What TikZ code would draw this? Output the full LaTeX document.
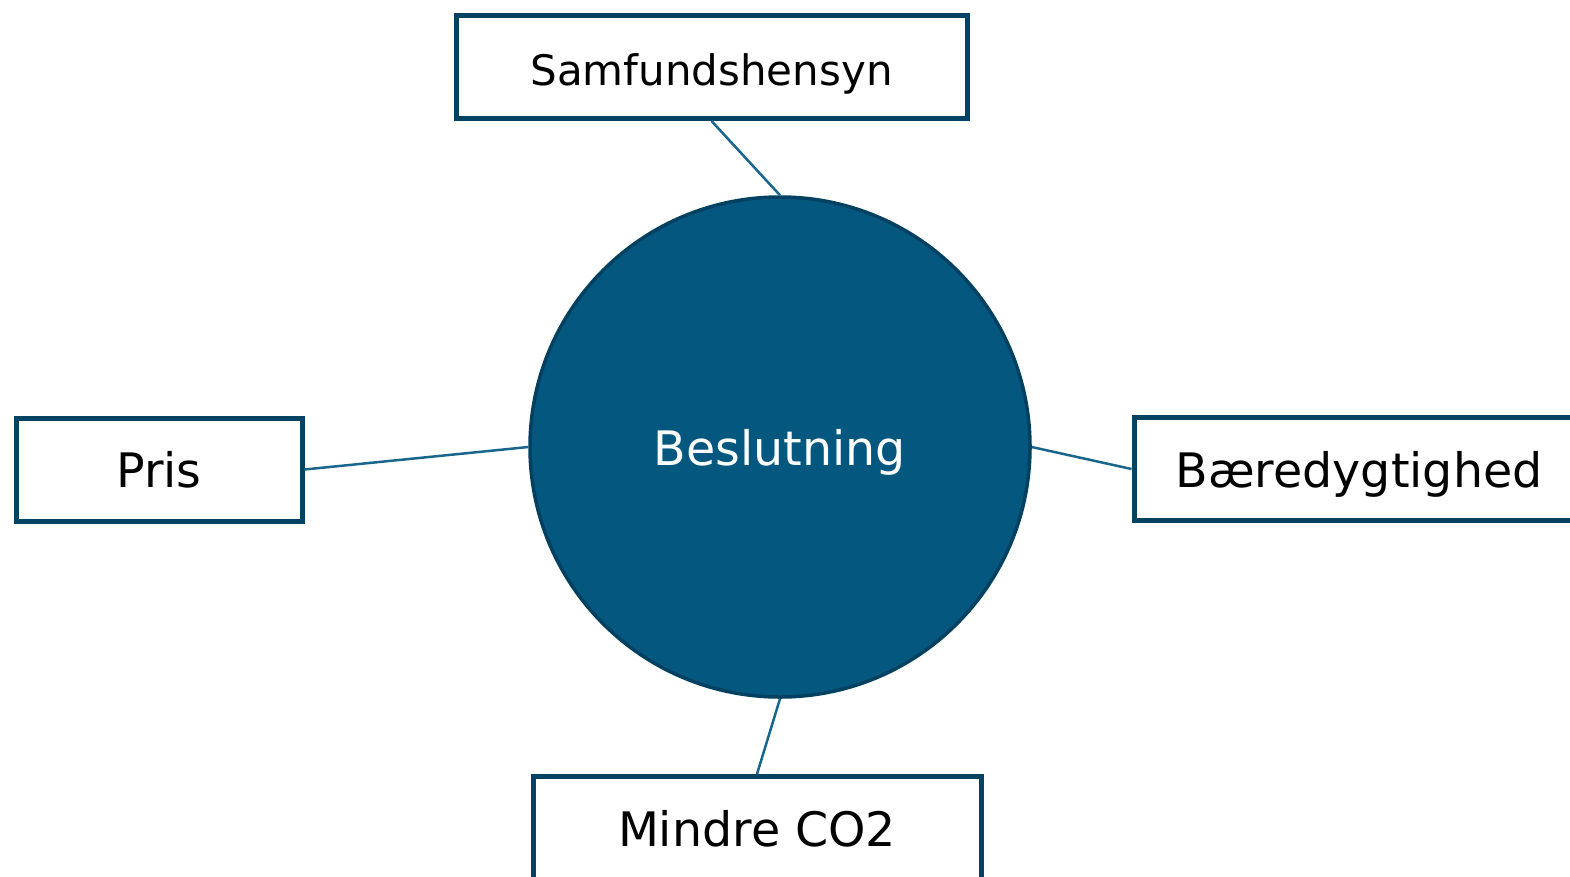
\documentclass[tikz,border=0pt]{standalone}
\usepackage{fontspec}
\setmainfont{DejaVu Sans}

\definecolor{boxline}{RGB}{2,66,98}
\definecolor{hubfill}{RGB}{4,88,128}
\definecolor{hubline}{RGB}{0,64,96}
\definecolor{linkline}{RGB}{24,102,142}

\begin{document}
\begin{tikzpicture}%
        [x=1pt, y=-1pt,
        box/.style={draw=boxline, line width=5pt, fill=white, rectangle,
                    inner sep=0pt, minimum height=103pt, text height=36pt, text depth=0pt,
                    font=\fontsize{47.5}{56}\selectfont},
        hub/.style={circle, draw=hubline, line width=3.5pt, fill=hubfill,
                    minimum size=500pt, inner sep=0pt, text=white, text height=36pt, text depth=0pt,
                    font=\fontsize{47.5}{56}\selectfont},
        link/.style={draw=linkline, line width=2.5pt}]

    \clip (0,0) rectangle (1570,876);

    %% Centre
    \node[hub] (beslutning) at (780, 447) {Beslutning};

    %% Boxes round it
    \node[box, minimum width=511pt, font=\fontsize{42}{50}\selectfont] (samfund) at (711.5, 67) {Samfundshensyn};
    \node[box, minimum width=286pt] (pris) at (159, 469.5) {Pris};
    \node[box, minimum width=450pt] (baeredygtig) at (1359, 469) {Bæredygtighed};
    \node[box, minimum width=448pt] (mindreco) at (757, 828) {Mindre CO2};

    %% Connectors
    \draw[link] (samfund.south) -- (beslutning.north);
    \draw[link] (pris.east) -- (beslutning.west);
    \draw[link] (beslutning.east) -- (baeredygtig.west);
    \draw[link] (beslutning.south) -- (mindreco.north);
\end{tikzpicture}
\end{document}
